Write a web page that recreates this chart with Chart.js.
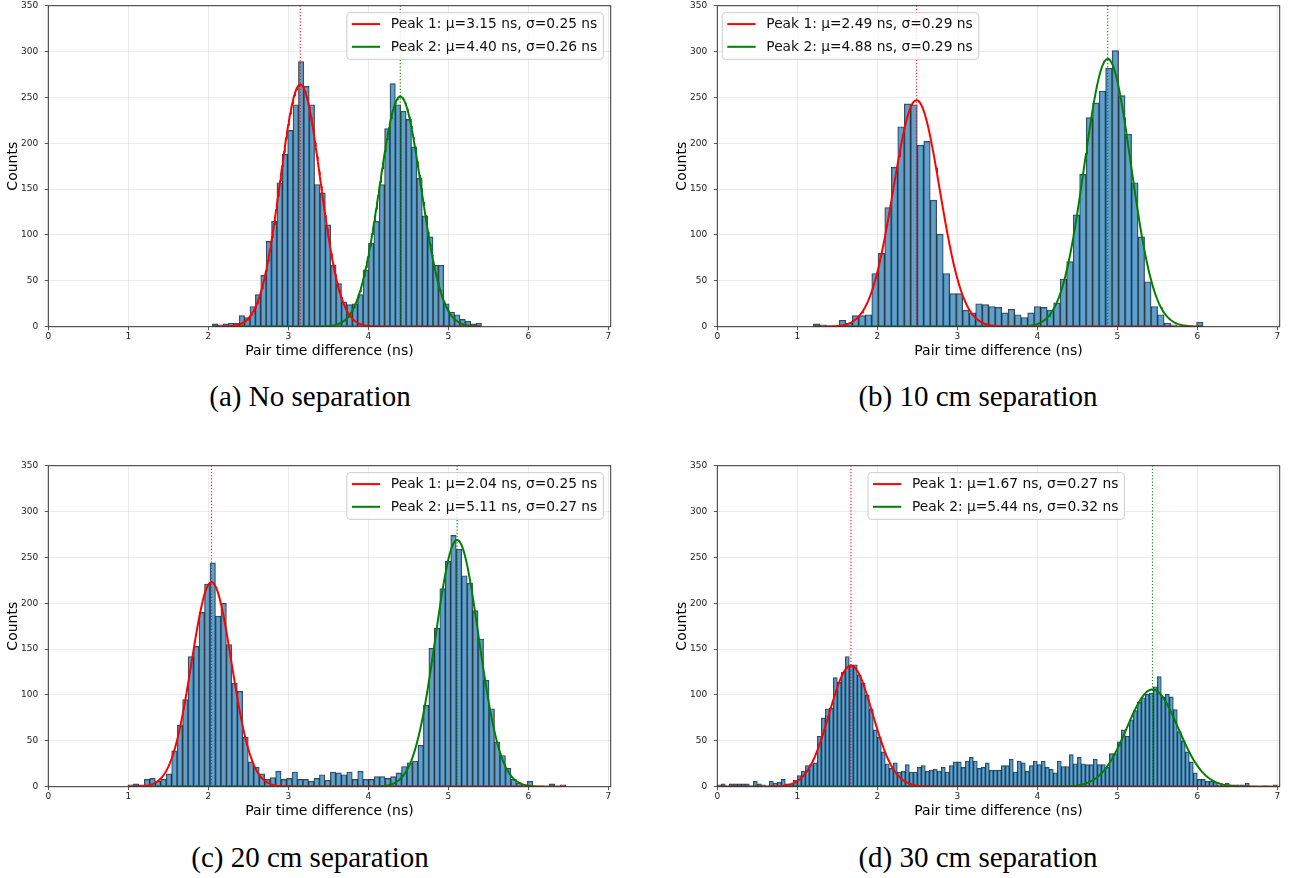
<!DOCTYPE html>
<html>
<head>
<meta charset="utf-8">
<script src="https://cdn.jsdelivr.net/npm/chart.js@4.4.1/dist/chart.umd.min.js"></script>
<style>
html,body{margin:0;padding:0;background:#fff;width:1298px;height:878px;overflow:hidden;position:relative}
canvas{position:absolute}
.cap{position:absolute;font-family:"Liberation Serif","Times New Roman",serif;font-size:29px;color:#000;white-space:nowrap;transform:translate(-50%,-50%)}
</style>
</head>
<body>
<canvas id="pa" width="629" height="372" style="left:0;top:0"></canvas>
<canvas id="pb" width="629" height="372" style="left:669px;top:0"></canvas>
<canvas id="pc" width="629" height="372" style="left:0;top:460px"></canvas>
<canvas id="pd" width="629" height="372" style="left:669px;top:460px"></canvas>
<div class="cap" id="capA" style="left:310px;top:396px"></div>
<div class="cap" id="capB" style="left:978px;top:396px"></div>
<div class="cap" id="capC" style="left:310px;top:857px"></div>
<div class="cap" id="capD" style="left:978px;top:857px"></div>
<script>
// ================= DATA =================
const xTickValues = [0, 1, 2, 3, 4, 5, 6, 7];
const yTickStep = 50;
const xAxisTitle = "Pair time difference (ns)";
const yAxisTitle = "Counts";
const captions = ["(a) No separation", "(b) 10 cm separation", "(c) 20 cm separation", "(d) 30 cm separation"];

// (a) No separation — 50 bins
const binStartA = 2.05, binWidthA = 0.0673;
const countsA = [3,2,3,4,4,12,10,22,35,56,93,115,157,188,214,242,289,262,242,155,
                 146,111,67,47,27,24,25,35,62,91,115,155,216,265,242,235,226,196,162,121,
                 98,67,67,25,16,13,8,6,3,4];
const muA = [3.15, 4.40], sigmaA = [0.25, 0.26], ampA = [264, 251], fitRangeA = [2.05, 5.41];

// (b) 10 cm separation — 60 bins
const binStartB = 1.20, binWidthB = 0.0812;
const countsB = [3,2,1,0,7,4,12,12,13,58,80,130,174,218,243,242,198,202,138,101,
                 58,36,36,18,15,25,24,22,21,15,19,13,10,15,22,21,18,26,52,71,
                 122,166,228,244,257,282,301,252,210,157,98,49,22,13,4,2,0,0,0,5];
const muB = [2.49, 4.88], sigmaB = [0.29, 0.29], ampB = [247, 292], fitRangeB = [1.20, 6.07];

// (c) 20 cm separation — 80 bins
const binStartC = 0.995, binWidthC = 0.0684;
const countsC = [2,3,2,8,9,6,8,14,39,67,95,142,153,190,221,244,186,200,155,113,
                 104,54,27,21,14,8,10,17,8,9,16,8,8,6,9,13,7,16,15,13,
                 16,8,17,8,8,11,11,9,11,15,22,26,28,45,89,151,173,216,246,274,
                 259,230,222,192,161,116,85,49,34,20,8,4,2,6,0,0,0,3,0,2];
const muC = [2.04, 5.11], sigmaC = [0.25, 0.27], ampC = [223, 269], fitRangeC = [0.995, 6.467];

// (d) 30 cm separation — 140 bins
const binStartD = 0.0, binWidthD = 0.05;
const countsD = [2,3,1,3,3,3,3,3,1,6,3,2,1,6,4,5,8,3,3,7,
                 12,17,23,24,26,55,75,85,86,119,114,125,142,133,133,122,113,100,85,62,
                 54,38,25,20,26,16,17,24,16,16,21,23,17,18,19,17,21,16,23,27,
                 27,21,28,32,28,20,21,26,18,18,18,23,23,30,16,28,26,17,23,28,
                 24,28,21,19,15,28,22,22,35,25,32,25,24,24,30,24,24,21,36,36,
                 49,62,55,73,83,92,97,101,102,109,120,98,101,98,84,60,50,38,27,15,
                 8,8,6,6,5,2,2,4,2,2,2,2,4,1,1,0,1,1,0,2];
const muD = [1.67, 5.44], sigmaD = [0.27, 0.32], ampD = [132, 106], fitRangeD = [0.0, 7.0];

// ================= RENDERING =================
const peakColors = ['#ff0000', '#008000'];
const peakLineColors = ['rgba(255,0,0,0.85)', 'rgba(0,128,0,0.9)'];

const framePlugin = {
  id: 'frame',
  afterDatasetsDraw(chart) {
    const {ctx, chartArea: a} = chart;
    ctx.save();
    ctx.strokeStyle = '#333';
    ctx.lineWidth = 1;
    ctx.strokeRect(a.left, a.top, a.right - a.left, a.bottom - a.top);
    ctx.restore();
  }
};

const peakLegend = {
  id: 'peakLegend',
  afterDraw(chart, args, opts) {
    const {ctx, chartArea: a} = chart;
    const items = chart.data.datasets.filter(d => d.isFit).map(d => ({label: d.label, color: d.borderColor}));
    ctx.save();
    ctx.font = opts.fontSize + 'px "DejaVu Sans"';
    const tw = Math.max(...items.map(it => ctx.measureText(it.label).width));
    const padL = 5, handle = 28.3, gap = 10.7, padR = 6;
    const w = padL + handle + gap + tw + padR;
    const h = 46.6, rowGap = 22.7, firstRow = 11.4;
    const left = opts.anchor === 'right' ? a.right - opts.offsetX - w : a.left + opts.offsetX;
    const top = a.top + opts.offsetY;
    ctx.beginPath();
    ctx.roundRect(left, top, w, h, 3);
    ctx.fillStyle = 'rgba(255,255,255,0.8)';
    ctx.fill();
    ctx.strokeStyle = '#cccccc';
    ctx.lineWidth = 1;
    ctx.stroke();
    items.forEach((it, i) => {
      const y = top + firstRow + i * rowGap;
      ctx.beginPath();
      ctx.moveTo(left + padL, y);
      ctx.lineTo(left + padL + handle, y);
      ctx.strokeStyle = it.color;
      ctx.lineWidth = 2;
      ctx.stroke();
      ctx.fillStyle = '#111';
      ctx.textBaseline = 'middle';
      ctx.textAlign = 'left';
      ctx.fillText(it.label, left + padL + handle + gap, y + 0.5);
    });
    ctx.restore();
  }
};

function fitCurve(mu, s, A, lo, hi) {
  const n = 400, pts = [];
  for (let i = 0; i <= n; i++) {
    const x = lo + (hi - lo) * i / n;
    pts.push({x: x, y: A * Math.exp(-((x - mu) * (x - mu)) / (2 * s * s))});
  }
  return pts;
}

function buildPanel(id, binStart, binWidth, counts, mu, sigma, amp, fitRange, legendOpts) {
  const bars = counts.map((c, i) => ({x: binStart + (i + 0.5) * binWidth, y: c}));
  const datasets = [];
  for (let p = 0; p < 2; p++) {
    datasets.push({
      type: 'line', label: 'mu' + p, isFit: false,
      data: [{x: mu[p], y: 0}, {x: mu[p], y: 350}],
      borderColor: peakLineColors[p], borderWidth: 1.2, borderDash: [1.2, 2],
      pointRadius: 0, fill: false, order: 0
    });
  }
  for (let p = 0; p < 2; p++) {
    datasets.push({
      type: 'line', isFit: true,
      label: 'Peak ' + (p + 1) + ': \u03bc=' + mu[p].toFixed(2) + ' ns, \u03c3=' + sigma[p].toFixed(2) + ' ns',
      data: fitCurve(mu[p], sigma[p], amp[p], fitRange[0], fitRange[1]),
      borderColor: peakColors[p], borderWidth: 2, pointRadius: 0, fill: false, tension: 0, order: 1
    });
  }
  datasets.push({
    type: 'bar', label: 'hist', data: bars,
    backgroundColor: 'rgba(31,119,180,0.7)', borderColor: 'rgba(0,0,0,0.75)', borderWidth: 0.75,
    borderSkipped: false, barPercentage: 1, categoryPercentage: 1, order: 2
  });

  const tickFont = {family: 'DejaVu Sans', size: 9};
  new Chart(document.getElementById(id), {
    type: 'bar',
    data: {datasets: datasets},
    plugins: [framePlugin, peakLegend],
    options: {
      responsive: false, animation: false, devicePixelRatio: 1,
      layout: {padding: {top: 5.7, left: 0, right: 18.3, bottom: 0}},
      plugins: {legend: {display: false}, tooltip: {enabled: false}, peakLegend: legendOpts},
      scales: {
        x: {
          type: 'linear', min: 0, max: 7.03, offset: false,
          afterBuildTicks: s => { s.ticks = xTickValues.map(v => ({value: v})); },
          afterFit: s => { s.height = 45.3; s.paddingLeft = 0; s.paddingRight = 0; },
          grid: {color: 'rgba(176,176,176,0.32)', lineWidth: 0.8, offset: false, drawTicks: true,
                 tickLength: 3.5, tickColor: '#333', tickWidth: 0.8},
          border: {display: false},
          ticks: {font: tickFont, color: '#222', padding: 1.5, maxRotation: 0, autoSkip: false},
          title: {display: true, text: xAxisTitle, font: {family: 'DejaVu Sans', size: 14}, color: '#000',
                  padding: {top: 0, bottom: 12.6}}
        },
        y: {
          type: 'linear', min: 0, max: 350,
          afterFit: s => { s.width = 48.3; s.paddingTop = 0; s.paddingBottom = 0; },
          grid: {color: 'rgba(176,176,176,0.32)', lineWidth: 0.8, drawTicks: true,
                 tickLength: 3.5, tickColor: '#333', tickWidth: 0.8},
          border: {display: false},
          ticks: {stepSize: yTickStep, font: tickFont, color: '#222', padding: 6.5},
          title: {display: true, text: yAxisTitle, font: {family: 'DejaVu Sans', size: 14}, color: '#000',
                  padding: {top: 4.6, bottom: 0}}
        }
      }
    }
  });
}

buildPanel('pa', binStartA, binWidthA, countsA, muA, sigmaA, ampA, fitRangeA, {anchor: 'right', offsetX: 7.4, offsetY: 7, fontSize: 13.8});
buildPanel('pb', binStartB, binWidthB, countsB, muB, sigmaB, ampB, fitRangeB, {anchor: 'left', offsetX: 5, offsetY: 7, fontSize: 13.8});
buildPanel('pc', binStartC, binWidthC, countsC, muC, sigmaC, ampC, fitRangeC, {anchor: 'right', offsetX: 7.4, offsetY: 7, fontSize: 13.8});
buildPanel('pd', binStartD, binWidthD, countsD, muD, sigmaD, ampD, fitRangeD, {anchor: 'left', offsetX: 150.7, offsetY: 7, fontSize: 13.8});

document.getElementById('capA').textContent = captions[0];
document.getElementById('capB').textContent = captions[1];
document.getElementById('capC').textContent = captions[2];
document.getElementById('capD').textContent = captions[3];
</script>
</body>
</html>
